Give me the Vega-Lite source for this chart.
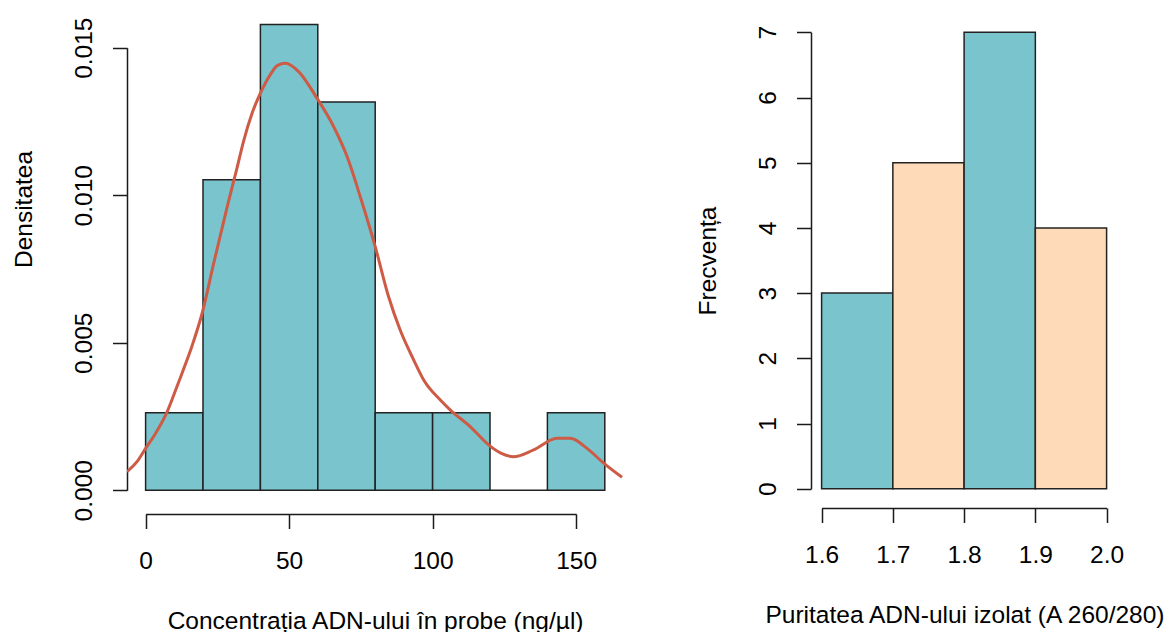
{
  "$schema": "https://vega.github.io/schema/vega-lite/v6.json",
  "background": "white",
  "padding": {"left": 0, "top": 6, "right": 0, "bottom": 0},
  "bounds": "flush",
  "spacing": 188,
  "config": {
    "view": {"stroke": null},
    "font": "Liberation Sans",
    "axis": {
      "grid": false,
      "domainColor": "#1a1a1a",
      "domainWidth": 1.5,
      "tickColor": "#1a1a1a",
      "tickWidth": 1.5,
      "tickSize": 14.5,
      "labelFont": "Liberation Sans",
      "labelFontSize": 24.5,
      "labelColor": "#000000",
      "titleFont": "Liberation Sans",
      "titleFontSize": 24.5,
      "titleFontWeight": "normal",
      "titleColor": "#000000",
      "labelFlush": false,
      "labelOverlap": false,
      "labelBound": false,
      "titleLimit": 1000,
      "labelLimit": 500
    }
  },
  "hconcat": [
    {
      "width": 496,
      "height": 508,
      "layer": [
        {
          "data": {
            "values": [
              {"bin_start": 0, "bin_end": 20, "density": 0.0026316},
              {"bin_start": 20, "bin_end": 40, "density": 0.0105263},
              {"bin_start": 40, "bin_end": 60, "density": 0.0157895},
              {"bin_start": 60, "bin_end": 80, "density": 0.0131579},
              {"bin_start": 80, "bin_end": 100, "density": 0.0026316},
              {"bin_start": 100, "bin_end": 120, "density": 0.0026316},
              {"bin_start": 120, "bin_end": 140, "density": 0},
              {"bin_start": 140, "bin_end": 160, "density": 0.0026316}
            ]
          },
          "mark": {"type": "rect", "fill": "#7AC5CD", "stroke": "#222222", "strokeWidth": 1.5},
          "encoding": {
            "x": {
              "field": "bin_start",
              "type": "quantitative",
              "title": "Concentrația ADN-ului în probe (ng/µl)",
              "scale": {"domain": [0, 150], "range": [18.6, 449.1], "nice": false, "zero": false},
              "axis": {
                "values": [0, 50, 100, 150],
                "labelPadding": 40,
                "labelBaseline": "alphabetic",
                "titleX": 248.1,
                "titleY": 114,
                "titleAlign": "center",
                "titleBaseline": "alphabetic"
              }
            },
            "x2": {"field": "bin_end"},
            "y": {
              "field": "density",
              "type": "quantitative",
              "title": "Densitatea",
              "scale": {"domain": [0, 0.015], "range": [484.3, 41.7], "nice": false, "zero": false},
              "axis": {
                "values": [0, 0.005, 0.01, 0.015],
                "format": ".3f",
                "labelAngle": -90,
                "labelAlign": "center",
                "labelBaseline": "alphabetic",
                "labelPadding": 21.5,
                "titleAngle": -90,
                "titleAlign": "center",
                "titleBaseline": "alphabetic",
                "titleX": -96,
                "titleY": 203,
                "minExtent": 126.7,
                "maxExtent": 300
              }
            },
            "y2": {"datum": 0}
          }
        },
        {
          "data": {
            "values": [
              {"x": -6.5, "density": 0.00063},
              {"x": -3.0, "density": 0.00097},
              {"x": 0, "density": 0.00142},
              {"x": 3.4, "density": 0.00192},
              {"x": 7.5, "density": 0.00266},
              {"x": 10.9, "density": 0.00351},
              {"x": 12.7, "density": 0.00397},
              {"x": 16.2, "density": 0.0049},
              {"x": 19.7, "density": 0.006},
              {"x": 23.7, "density": 0.00768},
              {"x": 28.4, "density": 0.0096},
              {"x": 31.8, "density": 0.0109},
              {"x": 34.1, "density": 0.01182},
              {"x": 37.1, "density": 0.01278},
              {"x": 40, "density": 0.01346},
              {"x": 43.4, "density": 0.01408},
              {"x": 46, "density": 0.0144},
              {"x": 48.7, "density": 0.01447},
              {"x": 53.3, "density": 0.01419},
              {"x": 59.7, "density": 0.01329},
              {"x": 65.5, "density": 0.01233},
              {"x": 70.2, "density": 0.01131},
              {"x": 74.8, "density": 0.00995},
              {"x": 80, "density": 0.00826},
              {"x": 84.7, "density": 0.00655},
              {"x": 88.7, "density": 0.00543},
              {"x": 93.4, "density": 0.00442},
              {"x": 96.9, "density": 0.00374},
              {"x": 102.7, "density": 0.00306},
              {"x": 106.2, "density": 0.00272},
              {"x": 113.1, "density": 0.00216},
              {"x": 119.5, "density": 0.00154},
              {"x": 124, "density": 0.00125},
              {"x": 128.2, "density": 0.00114},
              {"x": 135.2, "density": 0.00137},
              {"x": 143.3, "density": 0.00176},
              {"x": 148, "density": 0.00176},
              {"x": 153.8, "density": 0.00142},
              {"x": 159.6, "density": 0.00092},
              {"x": 166, "density": 0.00044}
            ]
          },
          "mark": {"type": "line", "color": "#CD5B45", "strokeWidth": 3, "interpolate": "monotone", "clip": true},
          "encoding": {
            "x": {
              "field": "x",
              "type": "quantitative",
              "title": "Concentrația ADN-ului în probe (ng/µl)",
              "scale": {"domain": [0, 150], "range": [18.6, 449.1], "nice": false, "zero": false}
            },
            "y": {
              "field": "density",
              "type": "quantitative",
              "title": "Densitatea",
              "scale": {"domain": [0, 0.015], "range": [484.3, 41.7], "nice": false, "zero": false}
            }
          }
        }
      ]
    },
    {
      "width": 307,
      "height": 502,
      "data": {
        "values": [
          {"bin_start": 1.6, "bin_end": 1.7, "count": 3, "group": "A"},
          {"bin_start": 1.7, "bin_end": 1.8, "count": 5, "group": "B"},
          {"bin_start": 1.8, "bin_end": 1.9, "count": 7, "group": "A"},
          {"bin_start": 1.9, "bin_end": 2.0, "count": 4, "group": "B"}
        ]
      },
      "mark": {"type": "rect", "stroke": "#222222", "strokeWidth": 1.5},
      "encoding": {
        "x": {
          "field": "bin_start",
          "type": "quantitative",
          "title": "Puritatea ADN-ului izolat (A 260/280)",
          "scale": {"domain": [1.6, 2.0], "range": [10.6, 295.6], "nice": false, "zero": false},
          "axis": {
            "values": [1.6, 1.7, 1.8, 1.9, 2.0],
            "format": ".1f",
            "labelPadding": 40,
            "labelBaseline": "alphabetic",
            "titleX": 153.5,
            "titleY": 114,
            "titleAlign": "center",
            "titleBaseline": "alphabetic"
          }
        },
        "x2": {"field": "bin_end"},
        "y": {
          "field": "count",
          "type": "quantitative",
          "title": "Frecvența",
          "scale": {"domain": [0, 7], "range": [482.7, 26.3], "nice": false, "zero": false},
          "axis": {
            "values": [0, 1, 2, 3, 4, 5, 6, 7],
            "format": "d",
            "labelAngle": -90,
            "labelAlign": "center",
            "labelBaseline": "alphabetic",
            "labelPadding": 21.5,
            "titleAngle": -90,
            "titleAlign": "center",
            "titleBaseline": "alphabetic",
            "titleX": -96,
            "titleY": 254.5
          }
        },
        "y2": {"datum": 0},
        "fill": {
          "field": "group",
          "type": "nominal",
          "scale": {"domain": ["A", "B"], "range": ["#7AC5CD", "#FFDAB9"]},
          "legend": null
        }
      }
    }
  ]
}
